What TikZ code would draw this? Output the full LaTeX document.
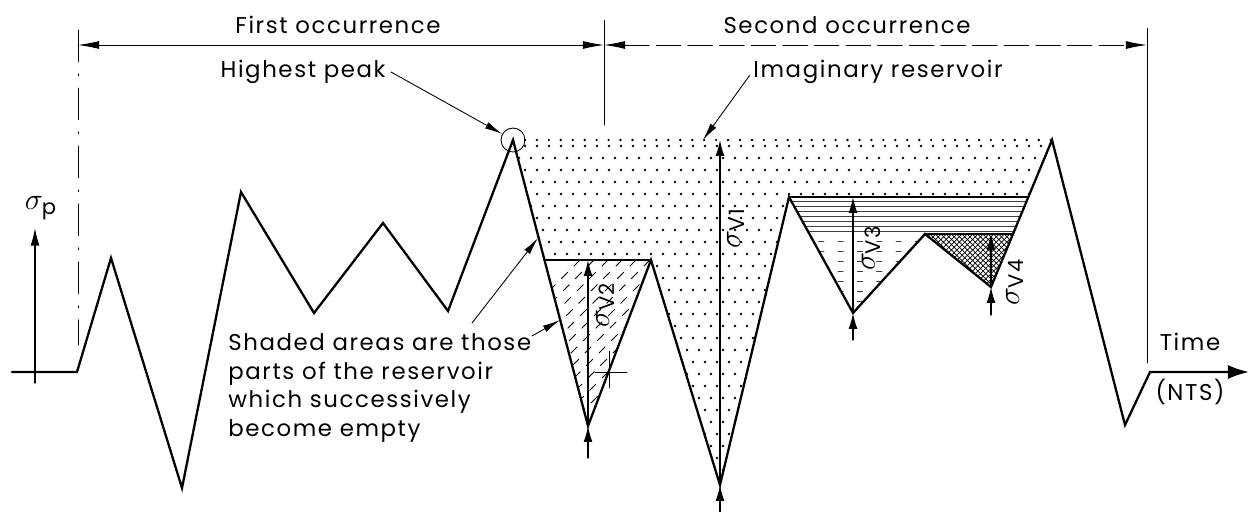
\documentclass[tikz,border=0pt]{standalone}
\usepackage{amsmath}
\usepackage{fontspec}
\setmainfont{Poppins}[LetterSpace=7]
\usetikzlibrary{arrows.meta,patterns}
\newcommand{\resdot}{0.75pt}
\tikzset{
  signal/.style={line width=1.3pt,line join=miter},
  thin line/.style={line width=.5pt},
  dim line/.style={line width=.5pt,{Latex[length=12pt,width=4.5pt]}-{Latex[length=12pt,width=4.5pt]}},
  sig arrow/.style={line width=.7pt,-{Latex[length=9pt,width=5pt]}},
  leader/.style={line width=.5pt,-{Latex[length=10pt,width=4pt]}},
  hatch/.style={line width=.5pt,dash pattern=on 5pt off 5pt},
  hline/.style={line width=.4pt,black!75},
  label text/.style={font=\fontsize{13}{16.4}\selectfont,inner sep=0pt},
  sig label/.style={font=\LARGE,rotate=90,inner sep=0pt}
}
\begin{document}
\begin{tikzpicture}[x=0.02cm,y=-0.02cm,line cap=round,line join=round]
  \useasboundingbox (0,0) rectangle (1251,511);
  % stress history
  \coordinate (p0) at (12,372);
  \coordinate (p1) at (77,372);
  \coordinate (p2) at (111,258);
  \coordinate (p3) at (182,488);
  \coordinate (p4) at (241,192);
  \coordinate (p5) at (314,313);
  \coordinate (p6) at (383,223);
  \coordinate (p7) at (448,311);
  \coordinate (p8) at (513,140);
  \coordinate (p9) at (588,426);
  \coordinate (p10) at (651,260);
  \coordinate (p11) at (720,485);
  \coordinate (p12) at (789,197);
  \coordinate (p13) at (853,313);
  \coordinate (p14) at (925,234);
  \coordinate (p15) at (991,287);
  \coordinate (p16) at (1052,140);
  \coordinate (p17) at (1125,425);
  \coordinate (p18) at (1150,372);
  \coordinate (p19) at (1249,372);
  \coordinate (a2) at (544.5,260);
  \coordinate (a3) at (1028.3,197);
  \coordinate (a4) at (1013,234);

  % imaginary reservoir
  \begin{scope}
    \clip (p8) -- (p9) -- (p10) -- (p11) -- (p12) -- (p13) -- (p14) -- (p15) -- (p16) -- cycle;
    \foreach \j [evaluate=\j as \off using {6*mod(\j,2)}] in {0,...,29}
      \foreach \i in {0,...,45}
        \fill (513+\off+12*\i,146+12*\j) circle (\resdot);
  \end{scope}
  \fill[white] (a2) -- (p9) -- (p10) -- cycle;
  \fill[white] (p12) -- (p13) -- (p14) -- (p15) -- (a3) -- cycle;
  \begin{scope}
    \clip (a2) -- (p9) -- (p10) -- cycle;
    \foreach \k in {0,...,22}
      \draw[hatch] (400+14*\k,440) -- ++(200,-200);
  \end{scope}
  \begin{scope}
    \clip (p12) -- (p13) -- (p14) -- (a4) -- (a3) -- cycle;
    \foreach \y in {201,206,...,231}
      \draw[hline] (780,\y) -- (1040,\y);
    \foreach \y in {241,251,...,311}
      \draw[hline,dash pattern=on 3pt off 8pt] (780,\y) -- (1040,\y);
  \end{scope}
  \fill[pattern=crosshatch] (p14) -- (p15) -- (a4) -- cycle;

  \draw[line width=1.5pt,dash pattern=on 0pt off 6.8pt] (p8) -- (p16);
  \draw[line width=1pt] (a2) -- (p10);
  \draw[line width=1.3pt] (p12) -- (a3);
  \draw[line width=.8pt] (p14) -- (a4);

  \draw[signal,-{Latex[length=12pt,width=8pt]}] (p0) -- (p1) -- (p2) -- (p3) -- (p4) -- (p5) -- (p6)
        -- (p7) -- (p8) -- (p9) -- (p10) -- (p11) -- (p12) -- (p13) -- (p14)
        -- (p15) -- (p16) -- (p17) -- (p18) -- (p19);

  % stress axis
  \coordinate (ax0) at (35,383);
  \coordinate (ax1) at (35,228);
  \draw[line width=.6pt,-{Latex[length=10pt,width=5pt]}] (ax0) -- (ax1);
  \node[font=\LARGE,inner sep=0pt] (sigp) at (41,208) {$\sigma_{\text{p}}$};

  % occurrences
  \coordinate (d0) at (78,45);
  \coordinate (d1) at (604,45);
  \coordinate (d2) at (1147,45);
  \draw[thin line,dash pattern=on 18pt off 7pt on 1pt off 7pt] (78,30) -- (78,345);
  \draw[thin line] (604,20) -- (604,125);
  \draw[thin line] (1147,28) -- (1147,363);
  \draw[dim line] (d0) -- (d1);
  \draw[dim line,dash pattern=on 14pt off 4pt] (d1) -- (d2);
  \node[label text] (first) at (338,25) {First occurrence};
  \node[label text] (second) at (847,25) {Second occurrence};

  % ranges
  \coordinate (v1t) at (720,140);
  \coordinate (v1b) at (720,525);
  \coordinate (v2t) at (588,260);
  \coordinate (v2b) at (588,458);
  \coordinate (v3t) at (853,197);
  \coordinate (v3b) at (853,340);
  \coordinate (v4t) at (991,234);
  \coordinate (v4b) at (991,315);
  \draw[sig arrow] (v1b) -- (p11);
  \draw[sig arrow] (p11) -- (v1t);
  \draw[sig arrow] (v2b) -- (p9);
  \draw[sig arrow] (p9) -- (v2t);
  \draw[sig arrow] (v3b) -- (p13);
  \draw[sig arrow] (p13) -- (v3t);
  \draw[sig arrow] (v4b) -- (p15);
  \draw[sig arrow] (p15) -- (v4t);
  \node[sig label] (lv1) at (736,228) {$\sigma_{\text{V1}}$};
  \node[sig label] (lv2) at (605,305) {$\sigma_{\text{V2}}$};
  \node[sig label] (lv3) at (871,248) {$\sigma_{\text{V3}}$};
  \node[sig label] (lv4) at (1015,282) {$\sigma_{\text{V4}}$};
  \draw[thin line] (595,372) -- (627,372) (609,351) -- (609,388);

  % notes
  \node[draw,circle,thin line,minimum size=0.48cm,inner sep=0pt] (ring) at (p8) {};
  \node[label text] (highest) at (303,72) {Highest peak};
  \node[label text] (imag) at (878,72) {Imaginary reservoir};
  \coordinate (rtip) at (703,140);
  \draw[leader] ([xshift=3pt]highest.east) -- (ring);
  \draw[leader] ([xshift=-2pt,yshift=-2pt]imag.west) -- (rtip);
  \node[label text,align=left,anchor=north west] (shaded) at (228,333)
    {Shaded areas are those\\parts of the reservoir\\which successively\\become empty};
  \coordinate (s1) at (472,323);
  \coordinate (t1) at (538,238);
  \coordinate (s2) at (532,336);
  \coordinate (t2) at (560,320);
  \draw[leader] (s1) -- (t1);
  \draw[leader] (s2) -- (t2);
  \node[label text] (time) at (1190,342) {Time};
  \node[label text] (nts) at (1190,392) {(NTS)};
\end{tikzpicture}
\end{document}
